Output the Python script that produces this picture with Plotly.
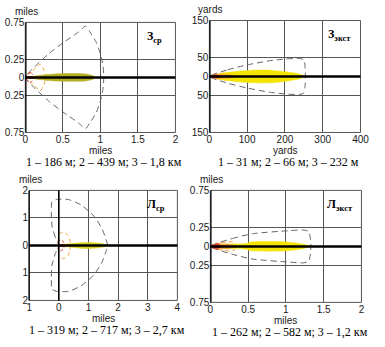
import plotly.graph_objects as go

# ---------------- Зср (miles) ----------------
ZSR_X_TICKS = [0, 0.5, 1, 1.5, 2]
ZSR_X_LABELS = ["0", "0.5", "1", "1.5", "2"]
ZSR_Y_TICKS = [-0.75, -0.25, 0, 0.25, 0.75]
ZSR_Y_LABELS = ["0.75", "0.25", "0", "0.25", "0.75"]
# upper halves of the zone outlines (mirrored about the wind axis)
ZSR_CONF3_X = [0, 0.13, 0.31, 0.50, 0.71, 0.80, 0.86, 0.945, 1.00, 1.035, 1.045]
ZSR_CONF3_Y = [0, 0.15, 0.32, 0.47, 0.62, 0.70, 0.62, 0.48, 0.32, 0.16, 0]
ZSR_CONF2_X = [0, 0.10, 0.20, 0.25, 0.27]
ZSR_CONF2_Y = [0, 0.09, 0.18, 0.10, 0]
ZSR_CONF1_X = [0, 0.07, 0.116]
ZSR_CONF1_Y = [0, 0.07, 0]
ZSR_ZONE3_X = [0.03, 0.2, 0.4, 0.6, 0.8, 0.9, 0.93]
ZSR_ZONE3_Y = [0, 0.03, 0.048, 0.052, 0.048, 0.025, 0]
ZSR_ZONE2_X = [0, 0.1, 0.2, 0.27]
ZSR_ZONE2_Y = [0, 0.015, 0.015, 0]
ZSR_ZONE1_X = [0, 0.05, 0.116]
ZSR_ZONE1_Y = [0, 0.012, 0]

# ---------------- Зэкст (yards) ----------------
ZEX_X_TICKS = [0, 100, 200, 300, 400]
ZEX_X_LABELS = ["0", "100", "200", "300", "400"]
ZEX_Y_TICKS = [-150, -50, 0, 50, 150]
ZEX_Y_LABELS = ["150", "50", "0", "50", "150"]
ZEX_CONF3_X = [0, 49, 100, 159, 203, 240, 250, 253, 254]
ZEX_CONF3_Y = [0, 18, 31, 42, 47, 48, 44, 30, 0]
ZEX_CONF2_X = [0, 30, 60, 72]
ZEX_CONF2_Y = [0, 8, 10, 0]
ZEX_CONF1_X = [0, 20, 34]
ZEX_CONF1_Y = [0, 6, 0]
ZEX_ZONE3_X = [3, 31, 74, 117, 160, 203, 236, 254]
ZEX_ZONE3_Y = [0, 8, 14, 17, 17, 12.5, 7, 0]
ZEX_ZONE2_X = [0, 20, 50, 72]
ZEX_ZONE2_Y = [0, 5, 5, 0]
ZEX_ZONE1_X = [0, 15, 34]
ZEX_ZONE1_Y = [0, 4, 0]

# ---------------- Лср (miles) ----------------
LSR_X_TICKS = [-1, 0, 1, 2, 3, 4]
LSR_X_LABELS = ["1", "0", "1", "2", "3", "4"]
LSR_Y_TICKS = [-2, -1, 0, 1, 2]
LSR_Y_LABELS = ["2", "1", "0", "1", "2"]
LSR_CONF3_X = [0, -0.12, -0.23, -0.25, -0.23, -0.07, 0.32, 0.75, 1.19, 1.46, 1.60, 1.65]
LSR_CONF3_Y = [0, 0.30, 0.71, 1.18, 1.59, 1.67, 1.67, 1.47, 1.06, 0.60, 0.19, 0]
LSR_CONF2_X = [0, -0.02, 0.0, 0.15, 0.30, 0.37, 0.39]
LSR_CONF2_Y = [0, 0.15, 0.39, 0.48, 0.38, 0.20, 0]
LSR_CONF1_X = [0, -0.03, 0.05, 0.14, 0.198]
LSR_CONF1_Y = [0, 0.12, 0.20, 0.15, 0]
LSR_ZONE3_X = [0.1, 0.3, 0.6, 0.9, 1.2, 1.45, 1.65]
LSR_ZONE3_Y = [0, 0.05, 0.09, 0.11, 0.10, 0.07, 0]
LSR_ZONE2_X = [0, 0.15, 0.30, 0.445]
LSR_ZONE2_Y = [0, 0.04, 0.04, 0]
LSR_ZONE1_X = [0, 0.1, 0.198]
LSR_ZONE1_Y = [0, 0.04, 0]

# ---------------- Лэкст (miles) ----------------
LEX_X_TICKS = [0, 0.5, 1, 1.5, 2]
LEX_X_LABELS = ["0", "0.5", "1", "1.5", "2"]
LEX_Y_TICKS = [-0.75, -0.25, 0, 0.25, 0.75]
LEX_Y_LABELS = ["0.75", "0.25", "0", "0.25", "0.75"]
LEX_CONF3_X = [0, 0.29, 0.56, 1.04, 1.235, 1.30, 1.325, 1.33]
LEX_CONF3_Y = [0, 0.105, 0.17, 0.21, 0.22, 0.20, 0.10, 0]
LEX_CONF2_X = [0, 0.15, 0.30, 0.36]
LEX_CONF2_Y = [0, 0.05, 0.06, 0]
LEX_CONF1_X = [0, 0.10, 0.163]
LEX_CONF1_Y = [0, 0.04, 0]
LEX_ZONE3_X = [0.05, 0.2, 0.45, 0.55, 0.8, 1.0, 1.2, 1.32]
LEX_ZONE3_Y = [0, 0.03, 0.035, 0.06, 0.065, 0.06, 0.035, 0]
LEX_ZONE2_X = [0, 0.1, 0.25, 0.36]
LEX_ZONE2_Y = [0, 0.03, 0.03, 0]
LEX_ZONE1_X = [0, 0.08, 0.163]
LEX_ZONE1_Y = [0, 0.025, 0]

CAPTIONS = [
    "1 – 186 м; 2 – 439 м; 3 – 1,8 км",
    "1 – 31 м; 2 – 66 м; 3 – 232 м",
    "1 – 319 м; 2 – 717 м; 3 – 2,7 км",
    "1 – 262 м; 2 – 582 м; 3 – 1,2 км",
]
PANEL_TAGS = [
    "<b>З</b><sub><b>ср</b></sub>",
    "<b>З</b><sub><b>экст</b></sub>",
    "<b>Л</b><sub><b>ср</b></sub>",
    "<b>Л</b><sub><b>экст</b></sub>",
]
UNITS_Y = ["miles", "yards", "miles", "miles"]
UNITS_X = ["miles", "yards", "miles", "miles"]

W, H = 385, 347

# plot boxes in pixels: left, right, top, bottom
BOXES = [(23, 178, 17, 131), (213, 369, 15, 131), (27, 180, 191, 305), (214, 370, 191, 307)]
YELLOWS = ["#b3ae22", "#f4e400", "#d8d21e", "#f4e400"]


def mirror(xs, ys):
    """Close an upper-half outline by reflecting it about y = 0."""
    fx = list(xs) + list(xs[::-1][1:])
    fy = list(ys) + [-v for v in ys[::-1][1:]]
    return fx, fy


panels = [
    dict(xt=ZSR_X_TICKS, xl=ZSR_X_LABELS, yt=ZSR_Y_TICKS, yl=ZSR_Y_LABELS,
         c3=(ZSR_CONF3_X, ZSR_CONF3_Y), c2=(ZSR_CONF2_X, ZSR_CONF2_Y), c1=(ZSR_CONF1_X, ZSR_CONF1_Y),
         z3=(ZSR_ZONE3_X, ZSR_ZONE3_Y), z2=(ZSR_ZONE2_X, ZSR_ZONE2_Y), z1=(ZSR_ZONE1_X, ZSR_ZONE1_Y)),
    dict(xt=ZEX_X_TICKS, xl=ZEX_X_LABELS, yt=ZEX_Y_TICKS, yl=ZEX_Y_LABELS,
         c3=(ZEX_CONF3_X, ZEX_CONF3_Y), c2=(ZEX_CONF2_X, ZEX_CONF2_Y), c1=(ZEX_CONF1_X, ZEX_CONF1_Y),
         z3=(ZEX_ZONE3_X, ZEX_ZONE3_Y), z2=(ZEX_ZONE2_X, ZEX_ZONE2_Y), z1=(ZEX_ZONE1_X, ZEX_ZONE1_Y)),
    dict(xt=LSR_X_TICKS, xl=LSR_X_LABELS, yt=LSR_Y_TICKS, yl=LSR_Y_LABELS,
         c3=(LSR_CONF3_X, LSR_CONF3_Y), c2=(LSR_CONF2_X, LSR_CONF2_Y), c1=(LSR_CONF1_X, LSR_CONF1_Y),
         z3=(LSR_ZONE3_X, LSR_ZONE3_Y), z2=(LSR_ZONE2_X, LSR_ZONE2_Y), z1=(LSR_ZONE1_X, LSR_ZONE1_Y)),
    dict(xt=LEX_X_TICKS, xl=LEX_X_LABELS, yt=LEX_Y_TICKS, yl=LEX_Y_LABELS,
         c3=(LEX_CONF3_X, LEX_CONF3_Y), c2=(LEX_CONF2_X, LEX_CONF2_Y), c1=(LEX_CONF1_X, LEX_CONF1_Y),
         z3=(LEX_ZONE3_X, LEX_ZONE3_Y), z2=(LEX_ZONE2_X, LEX_ZONE2_Y), z1=(LEX_ZONE1_X, LEX_ZONE1_Y)),
]

fig = go.Figure()
layout = dict(
    width=W, height=H, margin=dict(l=0, r=0, t=0, b=0),
    paper_bgcolor="white", plot_bgcolor="white", showlegend=False,
)
shapes, annotations = [], []
tick_font = dict(family="Liberation Sans, Arial", size=10, color="#1a1a1a")
unit_font = dict(family="Liberation Sans, Arial", size=10, color="#1a1a1a")

for i, (p, box) in enumerate(zip(panels, BOXES)):
    n = i + 1
    xa = "x" if n == 1 else f"x{n}"
    ya = "y" if n == 1 else f"y{n}"
    left, right, top, bottom = box
    layout[f"xaxis{'' if n == 1 else n}"] = dict(
        domain=[left / W, right / W], anchor=ya,
        range=[p["xt"][0], p["xt"][-1]], tickvals=p["xt"], ticktext=p["xl"],
        showgrid=True, gridcolor="#555555", gridwidth=1, zeroline=False,
        showline=False, ticks="", tickfont=tick_font, fixedrange=True,
    )
    layout[f"yaxis{'' if n == 1 else n}"] = dict(
        domain=[1 - bottom / H, 1 - top / H], anchor=xa,
        range=[p["yt"][0], p["yt"][-1]], tickvals=p["yt"], ticktext=p["yl"],
        showgrid=True, gridcolor="#555555", gridwidth=1, zeroline=False,
        showline=False, ticks="", tickfont=tick_font, fixedrange=True,
    )

    # confidence envelopes (dashed) and threat zones (filled)
    for key, col, dash in (("c3", "#646464", "6px,4px"), ("c2", "#f2a43a", "4px,3px"), ("c1", "#e23b3b", "3px,2px")):
        fx, fy = mirror(*p[key])
        fig.add_trace(go.Scatter(x=fx, y=fy, xaxis=xa, yaxis=ya, mode="lines",
                                 line=dict(color=col, width=1, dash=dash, shape="spline", smoothing=0.6),
                                 hoverinfo="skip"))
    for key, col in (("z3", YELLOWS[i]), ("z2", "#f4a036"), ("z1", "#cc1414")):
        fx, fy = mirror(*p[key])
        fig.add_trace(go.Scatter(x=fx, y=fy, xaxis=xa, yaxis=ya, mode="lines", fill="toself",
                                 fillcolor=col, line=dict(color=col, width=0.5, shape="spline", smoothing=0.6),
                                 hoverinfo="skip"))

    # frame, wind axis and source axis
    shapes.append(dict(type="rect", xref=f"{xa} domain", yref=f"{ya} domain", x0=0, x1=1, y0=0, y1=1,
                       line=dict(color="#555555", width=1), layer="above"))
    shapes.append(dict(type="line", xref=f"{xa} domain", yref=ya, x0=0, x1=1, y0=0, y1=0,
                       line=dict(color="black", width=2.5), layer="above"))
    shapes.append(dict(type="line", xref=xa, yref=f"{ya} domain", x0=0, x1=0, y0=0, y1=1,
                       line=dict(color="black", width=2.5 if n != 3 else 1.6), layer="above"))
    if n == 3:
        shapes.append(dict(type="line", xref=f"{xa} domain", yref=f"{ya} domain", x0=0, x1=0, y0=0, y1=1,
                           line=dict(color="black", width=1.3), layer="above"))

    # unit titles, zone tag and caption
    annotations.append(dict(text=UNITS_Y[i], xref="paper", yref="paper", x=(left + 1) / W, y=1 - (top - 11) / H,
                            showarrow=False, xanchor="center", yanchor="middle", font=unit_font))
    annotations.append(dict(text=UNITS_X[i], xref="paper", yref="paper", x=(left + right) / 2 / W,
                            y=1 - (bottom + 19) / H, showarrow=False, xanchor="center", yanchor="middle",
                            font=unit_font))
    annotations.append(dict(text=PANEL_TAGS[i], xref="paper", yref="paper", x=(right - 22) / W,
                            y=1 - (top + 15) / H, showarrow=False, xanchor="center", yanchor="middle",
                            font=dict(family="Liberation Serif, Times New Roman", size=12, color="black")))
    annotations.append(dict(text=CAPTIONS[i], xref="paper", yref="paper", x=((left + right) / 2 + 4) / W,
                            y=1 - (bottom + 31) / H, showarrow=False, xanchor="center", yanchor="middle",
                            font=dict(family="Liberation Serif, Times New Roman", size=12, color="black")))

layout["shapes"] = shapes
layout["annotations"] = annotations
fig.update_layout(**layout)
fig.write_html("out.html")
